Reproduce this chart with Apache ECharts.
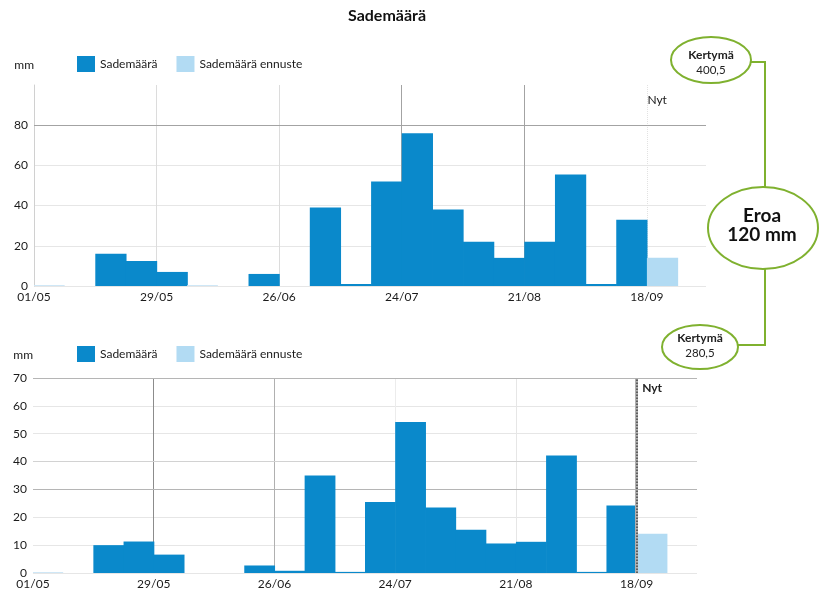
<!DOCTYPE html>
<html><head><meta charset="utf-8">
<script src="https://cdn.jsdelivr.net/npm/echarts@6/dist/echarts.min.js"></script>
<style>html,body{margin:0;padding:0;background:#fff}#c{width:825px;height:598px}</style>
</head><body><div id="c"></div>
<script>
// ---- data ----
const tickDays = [0, 28, 56, 84, 112, 140];
const tickLabels = ['01/05', '29/05', '26/06', '24/07', '21/08', '18/09'];
const binDays = 7;
const nowDay = 140;
// weekly precipitation (mm), bin i starts at day i*7 from 01/05
const topObserved = [0, null, 16, 12.5, 7, 0, null, 6, null, 39, 1, 52, 76, 38, 22, 14, 22, 55.5, 1, 33, null];
const topForecast = [null, null, null, null, null, null, null, null, null, null, null, null, null, null, null, null, null, null, null, null, 14];
const bottomObserved = [0, null, 10, 11.3, 6.6, null, null, 2.7, 0.8, 35, 0.4, 25.5, 54.2, 23.5, 15.5, 10.6, 11.2, 42.2, 0.4, 24.2, null];
const bottomForecast = [null, null, null, null, null, null, null, null, null, null, null, null, null, null, null, null, null, null, null, null, 14.1];
const topTotal = '400,5';
const bottomTotal = '280,5';
const diffText = '120 mm';

// ---- styles ----
const FONT = 'Lato';
const DARK = '#0a89cb';
const LIGHT = '#b2dbf3';
const ZERO = '#cfe7f6';
const GREEN = '#7fb12f';
const GL = '#e6e6e6';
const GD = '#a3a3a3';

function toItems(arr) {
  const out = [];
  arr.forEach((v, i) => { if (v !== null) out.push([i * binDays, (i + 1) * binDays, v]); });
  return out;
}
function renderBar(params, api) {
  const s = api.value(0), e = api.value(1), v = api.value(2);
  const p0 = api.coord([s, v]);
  const p1 = api.coord([e, 0]);
  if (v === 0) {
    return { type: 'rect', shape: { x: p0[0], y: p1[1] - 1, width: p1[0] - p0[0], height: 1 }, style: { fill: ZERO } };
  }
  return {
    type: 'rect',
    shape: { x: p0[0], y: p0[1], width: p1[0] - p0[0] + 0.6, height: p1[1] - p0[1] },
    style: { fill: api.visual('color') }
  };
}
function xAxisCfg(gi, max) {
  return {
    type: 'value', gridIndex: gi, min: 0, max: max, interval: 28,
    axisLine: { show: false }, axisTick: { show: false }, splitLine: { show: false },
    axisLabel: {
      fontFamily: FONT, fontSize: 12, color: '#1a1a1a', margin: 5,
      formatter: v => { const k = tickDays.indexOf(v); return k >= 0 ? tickLabels[k] : ''; }
    }
  };
}
function barSeries(name, data, color, xi) {
  return {
    type: 'custom', name: name, xAxisIndex: xi, yAxisIndex: xi, z: 10,
    itemStyle: { color: color }, renderItem: renderBar, data: toItems(data), animation: false
  };
}
function vline(x, color, width, type) {
  return { xAxis: x, lineStyle: { color: color, width: width || 1, type: type || 'solid' } };
}
function hline(y, color) {
  return { yAxis: y, lineStyle: { color: color, width: 1, type: 'solid' } };
}

const chart = echarts.init(document.getElementById('c'), null, { renderer: 'canvas' });
const legendBase = {
  left: 77, padding: 0, itemWidth: 18, itemHeight: 16, itemGap: 19, icon: 'rect',
  textStyle: { fontFamily: FONT, fontSize: 12, color: '#1a1a1a' },
  data: ['Sademäärä', 'Sademäärä ennuste']
};
chart.setOption({
  animation: false,
  backgroundColor: '#fff',
  title: { text: 'Sademäärä', left: 348, top: 8, padding: 0, textStyle: { fontFamily: FONT, fontSize: 16, fontWeight: 'bold', color: '#111' } },
  legend: [Object.assign({ top: 56 }, legendBase), Object.assign({ top: 346 }, legendBase)],
  grid: [
    { left: 34, top: 85, right: 119, height: 201 },
    { left: 33, top: 378, right: 128, height: 195 }
  ],
  xAxis: [xAxisCfg(0, 153.5), xAxisCfg(1, 154)],
  yAxis: [
    {
      type: 'value', gridIndex: 0, min: 0, max: 100, interval: 20,
      name: 'mm', nameGap: 14, nameTextStyle: { fontFamily: FONT, fontSize: 12, color: '#1a1a1a', align: 'right', padding: [0, 0, 0, 0] },
      axisLine: { show: true, lineStyle: { color: '#d0d0d0' } }, axisTick: { show: false },
      axisLabel: { fontFamily: FONT, fontSize: 12, color: '#1a1a1a', margin: 6, formatter: v => v === 100 ? '' : String(v) },
      splitLine: { show: true, showMaxLine: false, lineStyle: { color: GL } }
    },
    {
      type: 'value', gridIndex: 1, min: 0, max: 70, interval: 10,
      name: 'mm', nameGap: 17, nameTextStyle: { fontFamily: FONT, fontSize: 12, color: '#1a1a1a', align: 'right', padding: [0, 0, 0, 0] },
      axisLine: { show: false }, axisTick: { show: false },
      axisLabel: { fontFamily: FONT, fontSize: 12, color: '#1a1a1a', margin: 6 },
      splitLine: { show: true, lineStyle: { color: GL } }
    }
  ],
  series: [
    {
      type: 'line', xAxisIndex: 0, yAxisIndex: 0, data: [], z: 1, silent: true,
      markLine: {
        silent: true, z: 2, symbol: 'none', label: { show: false }, animation: false,
        data: [vline(tickDays[1], '#dcdcdc'), vline(tickDays[2], '#dcdcdc'), vline(tickDays[3], GD), vline(tickDays[4], GD),
               vline(nowDay, '#e2e2e2', 1, 'dotted'), hline(80, GD)]
      },
      markPoint: {
        silent: true, symbol: 'rect', symbolSize: 1, itemStyle: { color: 'rgba(0,0,0,0)' },
        label: { show: true, position: 'right', distance: 0, formatter: 'Nyt', fontFamily: FONT, fontSize: 12, color: '#1a1a1a' },
        data: [{ coord: [nowDay, 92.5] }]
      }
    },
    {
      type: 'line', xAxisIndex: 1, yAxisIndex: 1, data: [], z: 1, silent: true,
      markLine: {
        silent: true, z: 2, symbol: 'none', label: { show: false }, animation: false,
        data: [vline(tickDays[1], '#8c8c8c'), vline(tickDays[2], '#b0b0b0'), vline(tickDays[3], '#ececec'), vline(tickDays[4], '#e6e6e6'),
               hline(70, '#b5b5b5'), hline(40, '#d2d2d2'), hline(30, '#b5b5b5')]
      },
      markPoint: {
        silent: true, symbol: 'rect', symbolSize: 1, itemStyle: { color: 'rgba(0,0,0,0)' },
        label: { show: true, position: 'right', distance: 5, formatter: 'Nyt', fontFamily: FONT, fontSize: 12, fontWeight: 'bold', color: '#222' },
        data: [{ coord: [nowDay, 66.3] }]
      }
    },
    barSeries('Sademäärä', topObserved, DARK, 0),
    barSeries('Sademäärä ennuste', topForecast, LIGHT, 0),
    barSeries('Sademäärä', bottomObserved, DARK, 1),
    barSeries('Sademäärä ennuste', bottomForecast, LIGHT, 1),
    {
      type: 'line', xAxisIndex: 1, yAxisIndex: 1, data: [], z: 12, silent: true,
      markLine: {
        silent: true, z: 12, symbol: 'none', label: { show: false }, animation: false,
        data: [vline(nowDay, '#b0b0b0', 3, 'solid'), vline(nowDay, '#444', 1.5, 'dotted')]
      }
    }
  ],
  graphic: [
    { type: 'polyline', z: 20, shape: { points: [[750, 62], [765, 62], [765, 187]] }, style: { stroke: GREEN, lineWidth: 2, fill: null } },
    { type: 'polyline', z: 20, shape: { points: [[765, 269], [765, 345], [738, 345]] }, style: { stroke: GREEN, lineWidth: 2, fill: null } },
    { type: 'ellipse', z: 21, shape: { cx: 711, cy: 60, rx: 40, ry: 23 }, style: { fill: '#fff', stroke: GREEN, lineWidth: 2 } },
    { type: 'ellipse', z: 21, shape: { cx: 763, cy: 228, rx: 55, ry: 41 }, style: { fill: '#fff', stroke: GREEN, lineWidth: 2 } },
    { type: 'ellipse', z: 21, shape: { cx: 700, cy: 347, rx: 38, ry: 22 }, style: { fill: '#fff', stroke: GREEN, lineWidth: 2 } },
    { type: 'text', z: 22, x: 711, y: 55, style: { text: 'Kertymä', fontFamily: FONT, fontSize: 12, fontWeight: 'bold', fill: '#222', align: 'center', verticalAlign: 'middle' } },
    { type: 'text', z: 22, x: 711, y: 70, style: { text: topTotal, fontFamily: FONT, fontSize: 11.5, fill: '#222', align: 'center', verticalAlign: 'middle' } },
    { type: 'text', z: 22, x: 762, y: 216, style: { text: 'Eroa', fontFamily: FONT, fontSize: 19, fontWeight: 'bold', fill: '#111', align: 'center', verticalAlign: 'middle' } },
    { type: 'text', z: 22, x: 762, y: 235, style: { text: diffText, fontFamily: FONT, fontSize: 19, fontWeight: 'bold', fill: '#111', align: 'center', verticalAlign: 'middle' } },
    { type: 'text', z: 22, x: 700, y: 338, style: { text: 'Kertymä', fontFamily: FONT, fontSize: 12, fontWeight: 'bold', fill: '#222', align: 'center', verticalAlign: 'middle' } },
    { type: 'text', z: 22, x: 700, y: 353, style: { text: bottomTotal, fontFamily: FONT, fontSize: 11.5, fill: '#222', align: 'center', verticalAlign: 'middle' } }
  ]
});
</script>
</body></html>
